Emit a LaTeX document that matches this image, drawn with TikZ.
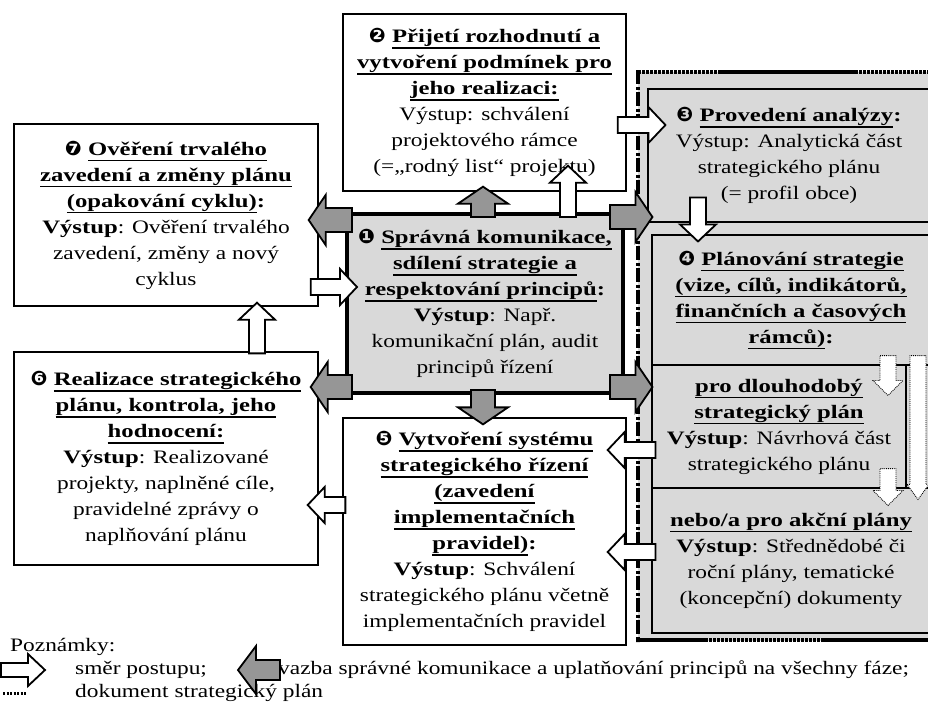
\documentclass[tikz,border=0pt]{standalone}
\usepackage{fontspec}
\setmainfont{Liberation Serif}[FakeStretch=1.23, BoldFeatures={FakeStretch=1.3}]
\newfontfamily\dejavu{DejaVu Sans}
\usepackage{graphicx}
\usetikzlibrary{calc}
\definecolor{BoxGray}{RGB}{217,217,217}
\definecolor{ArrGray}{RGB}{150,150,150}

\newcommand{\bodyfont}{\fontsize{19}{26}\selectfont}
\newcommand{\legfont}{\fontsize{19}{22}\selectfont}
% underline with fixed depth
\newcommand{\uln}[1]{\vtop{\hbox{\raisebox{0pt}[\height][0pt]{#1}}\kern4.5pt\hrule height 1.4pt}}
\newcommand{\cnum}[1]{{\dejavu\fontsize{20}{20}\selectfont #1}}

% block arrow: style, shaft half width, head half width, head length, start, tip
\newcommand{\blockarrow}[6]{%
  \coordinate (baA) at #5;
  \coordinate (baB) at #6;
  \coordinate (baH) at ($(baB)!#4!(baA)$);
  \draw[#1] ($(baA)!#2!90:(baB)$) -- ($(baH)!#2!90:(baB)$)
    -- ($(baH)!#3!90:(baB)$) -- (baB) -- ($(baH)!#3!-90:(baB)$)
    -- ($(baH)!#2!-90:(baB)$) -- ($(baA)!#2!-90:(baB)$) -- cycle;}
\newcommand{\warrow}[2]{\blockarrow{warr}{8pt}{18pt}{17pt}{#1}{#2}}
\newcommand{\garrow}[2]{\blockarrow{garr}{12pt}{25pt}{17pt}{#1}{#2}}

\begin{document}
\begin{tikzpicture}[x=1pt, y=-1pt,
    box/.style={rectangle, draw, line width=1.3pt, fill=white,
                font=\bodyfont, align=center, inner sep=0pt},
    gbox/.style={box, fill=BoxGray, line width=1.1pt},
    legtxt/.style={font=\legfont, inner sep=0pt, anchor=west},
    warr/.style={draw, line width=1.8pt, fill=white},
    garr/.style={draw, line width=1.8pt, fill=ArrGray},
    darr/.style={draw, line width=0.9pt, densely dotted, fill=white},
    frameline/.style={line width=4pt},
    dotframe/.style={frameline, dash pattern=on 2.5pt off 1.5pt}
  ]
  \useasboundingbox (0,0) rectangle (928,702);
  \clip (0,0) rectangle (928,702);

  % document frame (strategic plan)
  \fill[BoxGray] (638,72) rectangle (935,641);
  \draw[frameline, dash pattern=on 14pt off 2.5pt on 3pt off 2.5pt] (638,70) -- (638,642);
  \draw[dotframe] (638,72) -- (720,72);
  \draw[frameline] (720,72) -- (855,72);
  \draw[dotframe] (855,72) -- (935,72);
  \draw[frameline] (636,640) -- (705,640);
  \draw[dotframe] (705,640) -- (821,640);
  \draw[frameline] (821,640) -- (935,640);

  % phases
  \node[box, minimum width=283, minimum height=177] (b2) at (484.5,102.5)
    {\textbf{\cnum{❷} \uln{Přijetí rozhodnutí a}}\\
     \textbf{\uln{vytvoření podmínek pro}}\\
     \textbf{\uln{jeho realizaci:}}\\
     Výstup: schválení\\
     projektového rámce\\
     (=„rodný list“ projektu)};
  \node[box, minimum width=304, minimum height=182] (b7) at (166,215)
    {\textbf{\cnum{❼} \uln{Ověření trvalého}}\\
     \textbf{\uln{zavedení a změny plánu}}\\
     \textbf{\uln{(opakování cyklu)}:}\\
     \textbf{Výstup}: Ověření trvalého\\
     zavedení, změny a nový\\
     cyklus};
  \node[box, fill=BoxGray, line width=4pt, minimum width=276, minimum height=179] (b1) at (485,303.5)
    {\textbf{\cnum{❶} \uln{Správná komunikace,}}\\
     \textbf{\uln{sdílení strategie a}}\\
     \textbf{\uln{respektování principů}:}\\
     \textbf{Výstup}: Např.\\
     komunikační plán, audit\\
     principů řízení};
  \node[box, minimum width=304, minimum height=213] (b6) at (166,458.5)
    {\textbf{\cnum{❻} \uln{Realizace strategického}}\\
     \textbf{\uln{plánu, kontrola, jeho}}\\
     \textbf{\uln{hodnocení:}}\\
     \textbf{Výstup}: Realizované\\
     projekty, naplněné cíle,\\
     pravidelné zprávy o\\
     naplňování plánu};
  \node[box, minimum width=283, minimum height=227] (b5) at (484.5,531.5)
    {\textbf{\cnum{❺} \uln{Vytvoření systému}}\\
     \textbf{\uln{strategického řízení}}\\
     \textbf{\uln{(zavedení}}\\
     \textbf{\uln{implementačních}}\\
     \textbf{\uln{pravidel)}:}\\
     \textbf{Výstup}: Schválení\\
     strategického plánu včetně\\
     implementačních pravidel};
  \node[gbox, minimum width=282, minimum height=133] (b3) at (789,155.5)
    {\textbf{\cnum{❸} \uln{Provedení analýzy}:}\\
     Výstup: Analytická část\\
     strategického plánu\\
     (= profil obce)};
  \node[gbox, minimum width=278, minimum height=130] (b4) at (791,300)
    {\textbf{\cnum{❹} \uln{Plánování strategie}}\\
     \textbf{\uln{(vize, cílů, indikátorů,}}\\
     \textbf{\uln{finančních a časových}}\\
     \textbf{\uln{rámců)}:}};
  \node[gbox, minimum width=254, minimum height=123] (b4a) at (779,426.5)
    {\textbf{\uln{pro dlouhodobý}}\\
     \textbf{\uln{strategický plán}}\\
     \textbf{Výstup}: Návrhová část\\
     strategického plánu};
  \node[gbox, minimum width=278, minimum height=145] (b4b) at (791,560.5)
    {\textbf{\uln{nebo/a pro akční plány}}\\
     \textbf{Výstup}: Střednědobé či\\
     roční plány, tematické\\
     (koncepční) dokumenty};

  % direction of progress
  \warrow{($(b2.east)+(-9,22.5)$)}{($(b3.west)+(18,-30.5)$)}
  \warrow{($(b3.south)+(-91,-25)$)}{($(b4.north)+(-93,7)$)}
  \warrow{($(b1.north)+(83,5)$)}{($(b2.south)+(83.5,-26)$)}
  \warrow{($(b7.east)+(-8,72)$)}{($(b1.west)+(12,-16.5)$)}
  \warrow{($(b6.north)+(91,2)$)}{($(b7.south)+(91,-4)$)}
  \warrow{($(b5.west)+(3,-26.5)$)}{($(b6.east)+(-11,46.5)$)}
  \warrow{($(b4a.west)+(4,23.5)$)}{($(b5.east)+(-19,-81.5)$)}
  \warrow{($(b4b.west)+(4,-8.5)$)}{($(b5.east)+(-19,20.5)$)}
  \blockarrow{darr}{8pt}{15pt}{15pt}{($(b4.south)+(97,-10)$)}{($(b4a.north)+(109,31)$)}
  \blockarrow{darr}{8pt}{15pt}{15pt}{($(b4a.south)+(109,-20)$)}{($(b4b.north)+(97,18)$)}
  \blockarrow{darr}{8pt}{11pt}{15pt}{($(b4.south)+(127,-10)$)}{($(b4b.north)+(127,12)$)}

  % links of communication to all phases
  \garrow{($(b1.north)+(-2,5)$)}{($(b2.south)+(-1.5,-5)$)}
  \garrow{($(b1.south)+(-2,-5)$)}{($(b5.north)+(-1.5,7)$)}
  \garrow{($(b1.west)+(7,-83.5)$)}{($(b7.east)+(-10,5)$)}
  \garrow{($(b1.west)+(7,83.5)$)}{($(b6.east)+(-8,-71.5)$)}
  \garrow{($(b1.east)+(-15,-86.5)$)}{($(b3.west)+(5,61.5)$)}
  \garrow{($(b1.east)+(-15,83.5)$)}{($(b4a.west)+(1,-39.5)$)}

  % legend
  \node[legtxt] (notes) at (10,647) {Poznámky:};
  \node[legtxt] (lgstep) at (75,670) {směr postupu;};
  \node[legtxt] (lglink) at (278,670) {vazba správné komunikace a uplatňování principů na všechny fáze;};
  \node[legtxt] (lgdoc) at (75,693) {dokument strategický plán};
  \coordinate (lgarr) at (1,670);
  \coordinate (lgdot) at (3,693);
  \blockarrow{warr}{7pt}{16pt}{17pt}{(lgarr)}{($(lgstep.west)+(-30,0)$)}
  \blockarrow{garr}{10pt}{24pt}{18pt}{($(lglink.west)+(2,0)$)}{($(lglink.west)+(-40,0)$)}
  \draw[line width=3pt, dash pattern=on 2pt off 1.5pt] (lgdot) -- ($(lgdoc.west)+(-48,0)$);
\end{tikzpicture}
\end{document}
